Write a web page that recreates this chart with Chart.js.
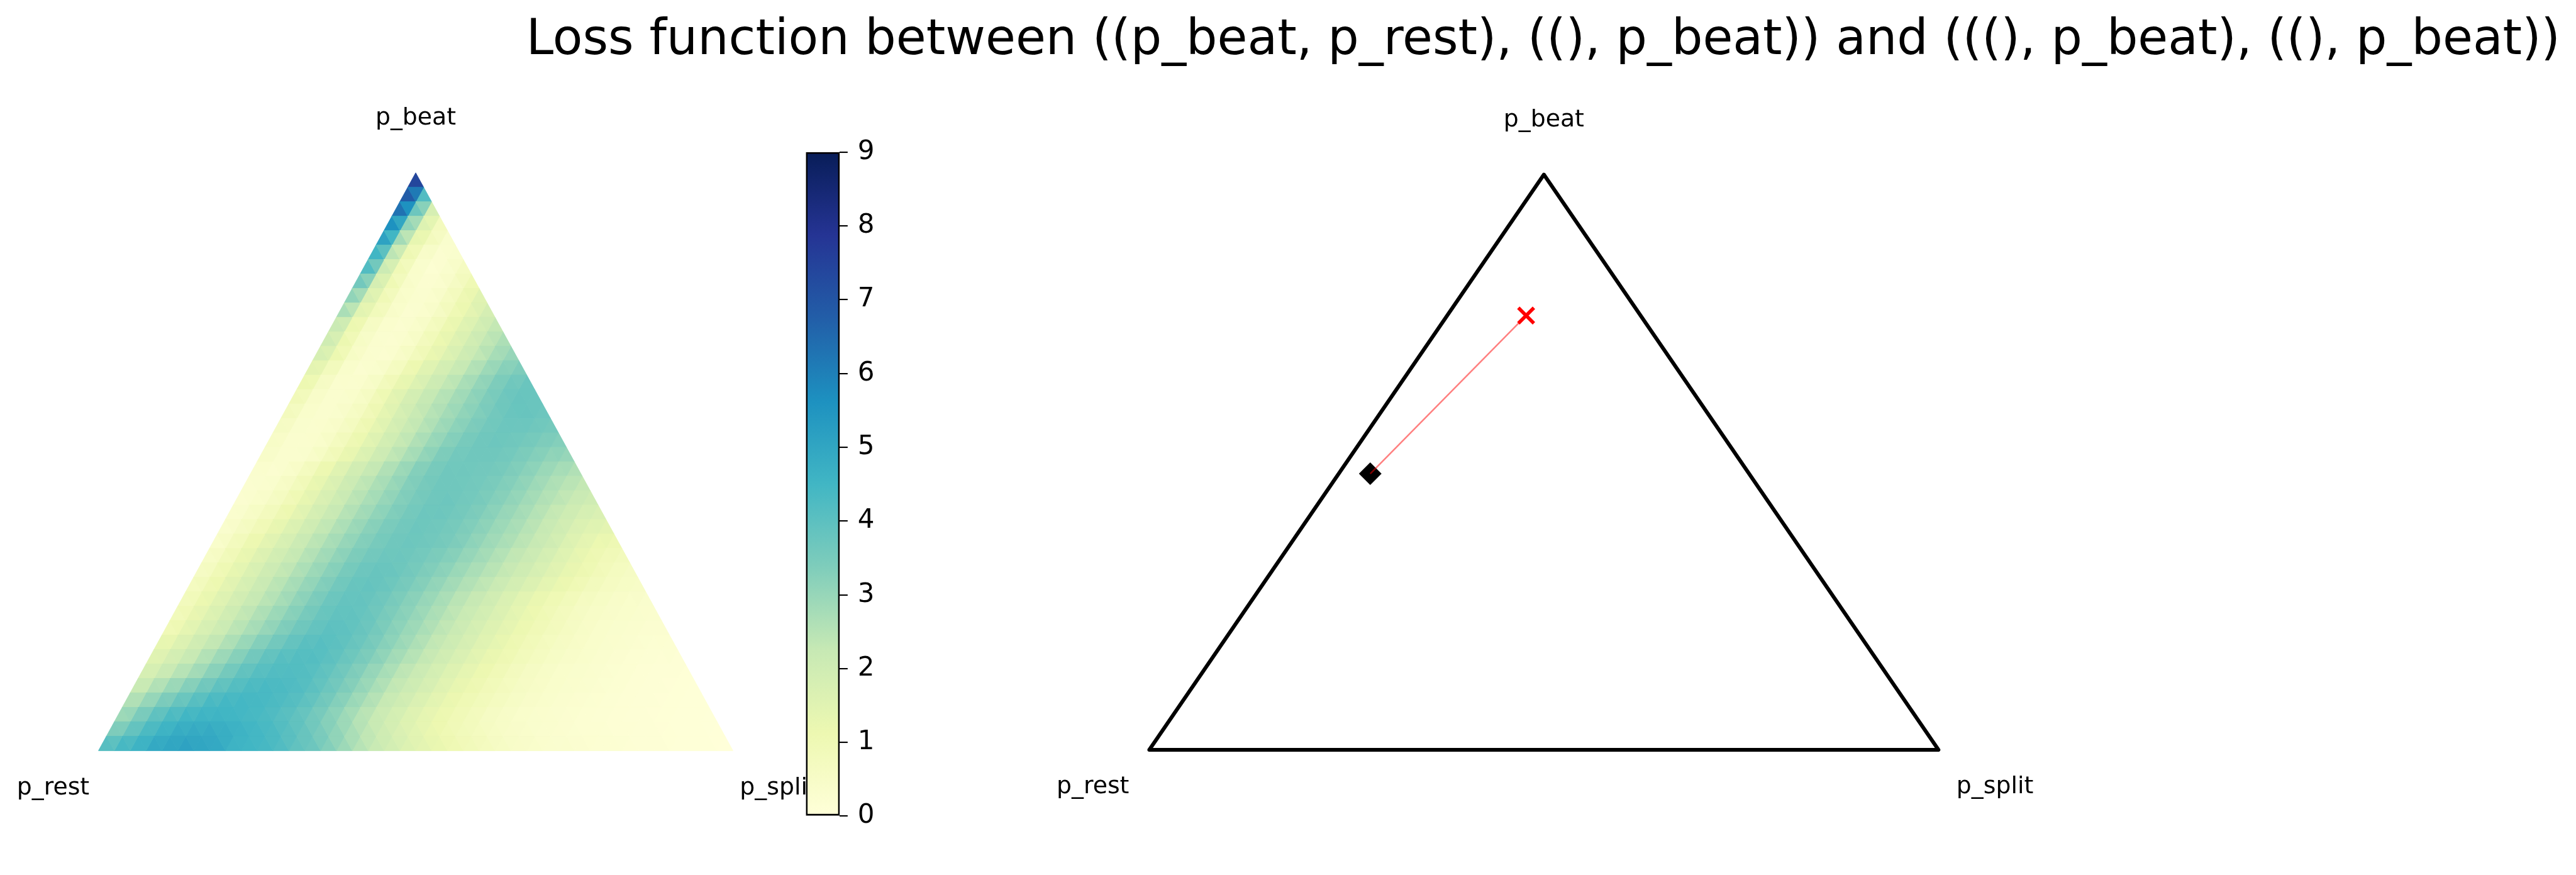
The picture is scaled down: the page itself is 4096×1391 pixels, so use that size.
<!DOCTYPE html>
<html>
<head>
<meta charset="utf-8">
<script src="https://cdn.jsdelivr.net/npm/chart.js@4.4.1/dist/chart.umd.min.js"></script>
<style>
  html, body { margin: 0; padding: 0; background: #fff; }
  #wrap { position: relative; width: 4096px; height: 1391px; overflow: hidden; }
  canvas { position: absolute; left: 0; top: 0; }
</style>
</head>
<body>
<div id="wrap">
  <canvas id="heat" width="4096" height="1391"></canvas>
  <canvas id="cbar" width="4096" height="1391"></canvas>
  <canvas id="path" width="4096" height="1391"></canvas>
</div>
<script>
const S = 4096 / 5859;   // reference px -> page px
const W = 4096, H = 1391;
const FONT = "'DejaVu Sans', 'Liberation Sans', sans-serif";

const titleText = "Loss function between ((p_beat, p_rest), ((), p_beat)) and (((), p_beat), ((), p_beat))";
const cornerLabels = { top: "p_beat", left: "p_rest", right: "p_split" };
const cbTicks = [0, 1, 2, 3, 4, 5, 6, 7, 8, 9];
const vmin = 0, vmax = 9;

// ternary points as [p_split, p_beat, p_rest]
const truePoint = [0.10, 0.755, 0.145];
const bestPoint = [0.04, 0.48, 0.48];

// loss value of each upward cell, row by row from the p_beat corner down
const r00 = [7.4];
const r01 = [6.8, 4.2];
const r02 = [6.3, 3.7, 1.8];
const r03 = [5.6, 3.1, 1.6, 0.75];
const r04 = [5.1, 2.8, 1.3, 0.75, 0.35];
const r05 = [4.5, 2.4, 1.05, 0.45, 0.25, 0.35];
const r06 = [4.2, 2.1, 0.95, 0.4, 0.2, 0.35, 0.65];
const r07 = [3.6, 1.85, 1.0, 0.45, 0.25, 0.3, 0.6, 1.0];
const r08 = [3.1, 1.7, 0.95, 0.45, 0.3, 0.33, 0.65, 1.05, 1.5];
const r09 = [2.7, 1.45, 0.85, 0.45, 0.25, 0.33, 0.6, 1.0, 1.4, 1.85];
const r10 = [2.15, 1.15, 0.6, 0.33, 0.25, 0.4, 0.7, 1.1, 1.5, 1.9, 2.3];
const r11 = [2.0, 1.15, 0.55, 0.3, 0.25, 0.4, 0.75, 1.15, 1.55, 1.95, 2.35, 2.65];
const r12 = [1.8, 1.15, 0.55, 0.3, 0.25, 0.45, 0.8, 1.2, 1.6, 2.0, 2.35, 2.75, 3.0];
const r13 = [1.4, 0.8, 0.4, 0.25, 0.35, 0.65, 1.05, 1.5, 1.85, 2.2, 2.55, 2.9, 3.25, 3.4];
const r14 = [1.1, 0.6, 0.3, 0.3, 0.45, 0.8, 1.25, 1.6, 2.05, 2.35, 2.7, 3.05, 3.4, 3.65, 3.75];
const r15 = [0.9, 0.45, 0.3, 0.35, 0.5, 0.9, 1.4, 1.85, 2.25, 2.5, 2.8, 3.1, 3.4, 3.65, 3.8, 3.75];
const r16 = [0.75, 0.4, 0.3, 0.35, 0.55, 0.9, 1.35, 1.8, 2.2, 2.5, 2.8, 3.1, 3.35, 3.6, 3.75, 3.8, 3.7];
const r17 = [0.6, 0.35, 0.3, 0.4, 0.6, 0.95, 1.35, 1.8, 2.2, 2.5, 2.85, 3.15, 3.4, 3.6, 3.7, 3.7, 3.65, 3.55];
const r18 = [0.5, 0.3, 0.3, 0.4, 0.7, 1.05, 1.45, 1.9, 2.25, 2.6, 2.95, 3.25, 3.5, 3.65, 3.7, 3.65, 3.55, 3.4, 3.3];
const r19 = [0.45, 0.3, 0.3, 0.45, 0.8, 1.2, 1.6, 2.0, 2.35, 2.7, 3.05, 3.4, 3.6, 3.65, 3.65, 3.6, 3.45, 3.3, 3.1, 3.0];
const r20 = [0.3, 0.25, 0.4, 0.7, 1.1, 1.5, 1.95, 2.25, 2.6, 2.9, 3.3, 3.5, 3.65, 3.65, 3.6, 3.55, 3.4, 3.2, 2.95, 2.75, 2.6];
const r21 = [0.25, 0.3, 0.5, 0.8, 1.2, 1.6, 2.0, 2.35, 2.65, 2.95, 3.3, 3.5, 3.65, 3.65, 3.6, 3.5, 3.35, 3.15, 2.9, 2.65, 2.45, 2.3];
const r22 = [0.25, 0.4, 0.6, 0.9, 1.3, 1.7, 2.05, 2.4, 2.7, 3.0, 3.3, 3.5, 3.65, 3.7, 3.6, 3.5, 3.3, 3.1, 2.85, 2.6, 2.4, 2.15, 2.0];
const r23 = [0.3, 0.5, 0.75, 1.05, 1.4, 1.8, 2.15, 2.5, 2.8, 3.1, 3.35, 3.55, 3.7, 3.7, 3.6, 3.45, 3.25, 3.0, 2.8, 2.55, 2.3, 2.05, 1.8, 1.7];
const r24 = [0.35, 0.6, 0.9, 1.25, 1.6, 1.95, 2.3, 2.6, 2.9, 3.2, 3.45, 3.6, 3.7, 3.65, 3.55, 3.4, 3.2, 2.95, 2.75, 2.5, 2.25, 2.0, 1.7, 1.5, 1.4];
const r25 = [0.4, 0.75, 1.1, 1.4, 1.75, 2.1, 2.4, 2.7, 3.0, 3.3, 3.5, 3.65, 3.7, 3.65, 3.55, 3.4, 3.15, 2.9, 2.7, 2.45, 2.25, 2.0, 1.65, 1.4, 1.15, 1.05];
const r26 = [0.5, 0.85, 1.2, 1.55, 1.9, 2.2, 2.5, 2.8, 3.1, 3.4, 3.6, 3.7, 3.7, 3.6, 3.45, 3.3, 3.05, 2.85, 2.6, 2.35, 2.15, 1.9, 1.6, 1.35, 1.1, 0.9, 0.8];
const r27 = [0.6, 0.95, 1.3, 1.65, 2.0, 2.3, 2.6, 2.9, 3.2, 3.5, 3.7, 3.8, 3.75, 3.6, 3.4, 3.2, 2.95, 2.7, 2.5, 2.3, 2.05, 1.8, 1.55, 1.3, 1.1, 0.9, 0.7, 0.6];
const r28 = [0.7, 1.05, 1.4, 1.75, 2.1, 2.4, 2.7, 3.0, 3.3, 3.6, 3.8, 3.85, 3.75, 3.55, 3.35, 3.1, 2.85, 2.6, 2.4, 2.15, 1.9, 1.65, 1.4, 1.2, 1.0, 0.8, 0.65, 0.55, 0.5];
const r29 = [0.8, 1.15, 1.5, 1.85, 2.2, 2.45, 2.75, 3.1, 3.4, 3.7, 3.85, 3.85, 3.7, 3.5, 3.25, 3.0, 2.75, 2.45, 2.25, 2.0, 1.7, 1.45, 1.2, 1.0, 0.85, 0.65, 0.55, 0.45, 0.4, 0.35];
const r30 = [0.85, 1.25, 1.6, 1.95, 2.3, 2.6, 2.9, 3.2, 3.5, 3.75, 3.9, 3.9, 3.75, 3.5, 3.25, 3.0, 2.7, 2.45, 2.2, 1.95, 1.7, 1.45, 1.2, 1.0, 0.8, 0.65, 0.5, 0.45, 0.4, 0.35, 0.3];
const r31 = [0.95, 1.35, 1.75, 2.05, 2.4, 2.7, 3.0, 3.35, 3.65, 3.85, 4.0, 3.95, 3.8, 3.55, 3.25, 2.95, 2.7, 2.4, 2.15, 1.9, 1.6, 1.4, 1.15, 0.95, 0.8, 0.65, 0.5, 0.4, 0.35, 0.3, 0.25, 0.25];
const r32 = [1.3, 1.6, 1.95, 2.3, 2.6, 2.95, 3.3, 3.6, 3.85, 4.05, 4.1, 4.0, 3.8, 3.55, 3.25, 2.95, 2.65, 2.35, 2.1, 1.85, 1.55, 1.35, 1.1, 0.9, 0.75, 0.6, 0.5, 0.4, 0.35, 0.3, 0.25, 0.2, 0.2];
const r33 = [1.5, 1.85, 2.2, 2.55, 2.9, 3.25, 3.6, 3.9, 4.1, 4.15, 4.15, 4.0, 3.75, 3.5, 3.2, 2.85, 2.55, 2.3, 2.0, 1.75, 1.5, 1.25, 1.05, 0.85, 0.7, 0.55, 0.45, 0.4, 0.3, 0.25, 0.2, 0.18, 0.15, 0.12];
const r34 = [1.8, 2.15, 2.5, 2.8, 3.2, 3.55, 3.9, 4.1, 4.2, 4.2, 4.15, 3.95, 3.7, 3.4, 3.05, 2.75, 2.4, 2.15, 1.9, 1.6, 1.35, 1.15, 0.95, 0.75, 0.6, 0.5, 0.4, 0.35, 0.3, 0.25, 0.2, 0.15, 0.12, 0.1, 0.08];
const r35 = [2.2, 2.6, 2.95, 3.3, 3.65, 3.95, 4.15, 4.3, 4.35, 4.3, 4.2, 4.0, 3.7, 3.4, 3.05, 2.7, 2.35, 2.1, 1.85, 1.55, 1.3, 1.1, 0.9, 0.75, 0.6, 0.5, 0.4, 0.35, 0.3, 0.25, 0.2, 0.15, 0.12, 0.1, 0.08, 0.06];
const r36 = [2.6, 3.0, 3.45, 3.8, 4.1, 4.35, 4.45, 4.45, 4.4, 4.3, 4.15, 3.95, 3.65, 3.3, 2.95, 2.6, 2.25, 2.0, 1.7, 1.45, 1.2, 1.0, 0.85, 0.7, 0.55, 0.45, 0.38, 0.32, 0.27, 0.22, 0.18, 0.15, 0.12, 0.1, 0.08, 0.06, 0.05];
const r37 = [2.9, 3.45, 3.95, 4.3, 4.5, 4.55, 4.55, 4.5, 4.4, 4.3, 4.1, 3.9, 3.6, 3.25, 2.9, 2.5, 2.2, 1.9, 1.6, 1.35, 1.15, 0.95, 0.8, 0.6, 0.5, 0.4, 0.35, 0.3, 0.25, 0.2, 0.18, 0.15, 0.12, 0.1, 0.08, 0.06, 0.05, 0.04];
const r38 = [3.4, 3.85, 4.3, 4.6, 4.8, 4.85, 4.85, 4.75, 4.6, 4.45, 4.3, 4.05, 3.8, 3.45, 3.1, 2.7, 2.35, 2.0, 1.7, 1.45, 1.2, 1.0, 0.85, 0.7, 0.55, 0.45, 0.38, 0.32, 0.27, 0.22, 0.2, 0.17, 0.14, 0.12, 0.1, 0.08, 0.06, 0.05, 0.03];
const r39 = [4.1, 4.4, 4.6, 4.9, 5.0, 5.1, 5.0, 4.9, 4.6, 4.5, 4.4, 4.2, 3.9, 3.7, 3.3, 2.9, 2.5, 2.2, 1.9, 1.6, 1.4, 1.2, 1.0, 0.85, 0.7, 0.55, 0.45, 0.4, 0.3, 0.3, 0.25, 0.2, 0.2, 0.15, 0.1, 0.1, 0.05, 0.05, 0.05, 0.0];

const lossRows = [r00, r01, r02, r03, r04, r05, r06, r07, r08, r09,
  r10, r11, r12, r13, r14, r15, r16, r17, r18, r19,
  r20, r21, r22, r23, r24, r25, r26, r27, r28, r29,
  r30, r31, r32, r33, r34, r35, r36, r37, r38, r39];

// YlGnBu
const ylgnbu = ["#ffffd9", "#edf8b1", "#c7e9b4", "#7fcdbb", "#41b6c4", "#1d91c0", "#225ea8", "#253494", "#081d58"];
const ylgnbuRgb = ylgnbu.map(h => [1, 3, 5].map(i => parseInt(h.slice(i, i + 2), 16)));

function cmap(v) {
  let t = (v - vmin) / (vmax - vmin);
  t = Math.max(0, Math.min(1, t));
  const p = t * (ylgnbu.length - 1);
  const i = Math.min(Math.floor(p), ylgnbu.length - 2);
  const f = p - i;
  const a = ylgnbuRgb[i], b = ylgnbuRgb[i + 1];
  return "rgb(" + a.map((c, n) => Math.round(c + (b[n] - c) * f)).join(",") + ")";
}

// [split, beat, rest] -> plot coords
function project(p) {
  return { x: p[0] + p[1] / 2, y: p[1] };
}

// areas in reference pixels
const leftTri = { l: 224, r: 1667, t: 393, b: 1707 };
const rightTri = { l: 2614, r: 4409, t: 397, b: 1705 };
const cbBox = { l: 1833, r: 1910, t: 346, b: 1856 };

function padFor(box) {
  return { left: box.l * S, right: W - box.r * S, top: box.t * S, bottom: H - box.b * S };
}

const hiddenAxes = {
  x: { type: "linear", min: 0, max: 1, display: false },
  y: { type: "linear", min: 0, max: 1, display: false }
};

const heatmapPlugin = {
  id: "ternaryHeatmap",
  beforeDatasetsDraw(chart) {
    const { ctx, scales: { x, y } } = chart;
    const n = lossRows.length;
    const tri = (pts, v) => {
      ctx.beginPath();
      pts.forEach((p, i) => {
        const px = x.getPixelForValue(p[0]), py = y.getPixelForValue(p[1]);
        if (i) ctx.lineTo(px, py); else ctx.moveTo(px, py);
      });
      ctx.closePath();
      const c = cmap(v);
      ctx.fillStyle = c;
      ctx.strokeStyle = c;
      ctx.fill();
      ctx.stroke();
    };
    ctx.save();
    ctx.lineWidth = 1;
    ctx.lineJoin = "round";
    for (let k = 0; k < n; k++) {
      const yt = 1 - k / n, yb = 1 - (k + 1) / n;
      const x0 = 0.5 - k / (2 * n);
      const row = lossRows[k];
      for (let j = 0; j <= k && j < row.length; j++) {
        const ax = x0 + j / n;
        tri([[ax, yt], [ax - 1 / (2 * n), yb], [ax + 1 / (2 * n), yb]], row[j]);
      }
      if (k > 0) {
        const above = lossRows[k - 1];
        for (let j = 0; j < k; j++) {
          const lx = x0 + j / n;
          tri([[lx, yt], [lx + 1 / n, yt], [lx + 1 / (2 * n), yb]], (row[j] + row[j + 1] + above[j]) / 3);
        }
      }
    }
    ctx.restore();
  }
};

const cornerLabelPlugin = {
  id: "cornerLabels",
  afterDraw(chart) {
    const { ctx, scales: { x, y } } = chart;
    ctx.save();
    ctx.fillStyle = "#000";
    ctx.font = (54 * S).toFixed(1) + "px " + FONT;
    ctx.textAlign = "center";
    ctx.textBaseline = "alphabetic";
    ctx.fillText(cornerLabels.top, x.getPixelForValue(0.5), y.getPixelForValue(1.084));
    ctx.fillText(cornerLabels.left, x.getPixelForValue(-0.0715), y.getPixelForValue(-0.076));
    ctx.fillText(cornerLabels.right, x.getPixelForValue(1.0715), y.getPixelForValue(-0.076));
    ctx.restore();
  }
};

const titlePlugin = {
  id: "figTitle",
  afterDraw(chart) {
    const { ctx, scales: { x } } = chart;
    ctx.save();
    ctx.fillStyle = "#000";
    ctx.font = (111.5 * S).toFixed(1) + "px " + FONT;
    ctx.textAlign = "center";
    ctx.textBaseline = "alphabetic";
    ctx.fillText(titleText, x.getPixelForValue(0.5) - 1, 123 * S);
    ctx.restore();
  }
};

const common = {
  responsive: false,
  animation: false,
  devicePixelRatio: 1,
  events: [],
  plugins: { legend: { display: false }, tooltip: { enabled: false } }
};

// left: heatmap
new Chart(document.getElementById("heat"), {
  type: "scatter",
  data: { datasets: [] },
  options: Object.assign({}, common, { layout: { padding: padFor(leftTri) }, scales: hiddenAxes }),
  plugins: [heatmapPlugin, cornerLabelPlugin]
});

// colour bar
new Chart(document.getElementById("cbar"), {
  type: "bar",
  data: {
    labels: ["loss"],
    datasets: [{
      data: [[vmin, vmax]],
      backgroundColor(c) {
        const chart = c.chart;
        if (!chart.chartArea) return ylgnbu[0];
        const ys = chart.scales.y;
        const g = chart.ctx.createLinearGradient(0, ys.getPixelForValue(vmin), 0, ys.getPixelForValue(vmax));
        ylgnbu.forEach((col, i) => g.addColorStop(i / (ylgnbu.length - 1), col));
        return g;
      },
      borderColor: "#000",
      borderWidth: 4.2 * S,
      borderSkipped: false,
      barPercentage: 1,
      categoryPercentage: 1
    }]
  },
  options: Object.assign({}, common, {
    layout: { padding: { left: cbBox.l * S, right: W - cbBox.r * S - 90, top: cbBox.t * S, bottom: H - cbBox.b * S } },
    scales: {
      x: { display: false },
      y: {
        position: "right",
        min: vmin,
        max: vmax,
        afterBuildTicks(scale) { scale.ticks = cbTicks.map(v => ({ value: v })); },
        afterFit(scale) { scale.width = 90; },
        ticks: { color: "#000", padding: 16, font: { family: FONT, size: 60 * S } },
        grid: { drawOnChartArea: false, tickLength: 18 * S, color: "#000", lineWidth: 3 * S },
        border: { display: false }
      }
    }
  })
});

// right: simplex with estimate path
const cornerRest = [0, 0, 1], cornerBeat = [0, 1, 0], cornerSplit = [1, 0, 0];
new Chart(document.getElementById("path"), {
  type: "scatter",
  data: {
    datasets: [
      {
        data: [cornerRest, cornerBeat, cornerSplit, cornerRest].map(project),
        showLine: true, fill: false, clip: false, order: 4,
        borderColor: "#000", borderWidth: 8.5 * S,
        borderJoinStyle: "round", borderCapStyle: "round",
        pointRadius: 0
      },
      {
        data: [project(bestPoint)],
        order: 3, clip: false,
        pointStyle: "rectRot", pointRadius: 25 * S,
        pointBackgroundColor: "#000", pointBorderColor: "#000", pointBorderWidth: 1
      },
      {
        data: [project(bestPoint), project(truePoint)],
        showLine: true, fill: false, order: 2, clip: false,
        borderColor: "rgba(255,0,0,0.5)", borderWidth: 3.6 * S,
        pointRadius: 0
      },
      {
        data: [project(truePoint)],
        order: 1, clip: false,
        pointStyle: "crossRot", pointRadius: 25 * S,
        pointBorderColor: "#ff0000", pointBorderWidth: 8 * S
      }
    ]
  },
  options: Object.assign({}, common, { layout: { padding: padFor(rightTri) }, scales: hiddenAxes }),
  plugins: [cornerLabelPlugin, titlePlugin]
});
</script>
</body>
</html>
